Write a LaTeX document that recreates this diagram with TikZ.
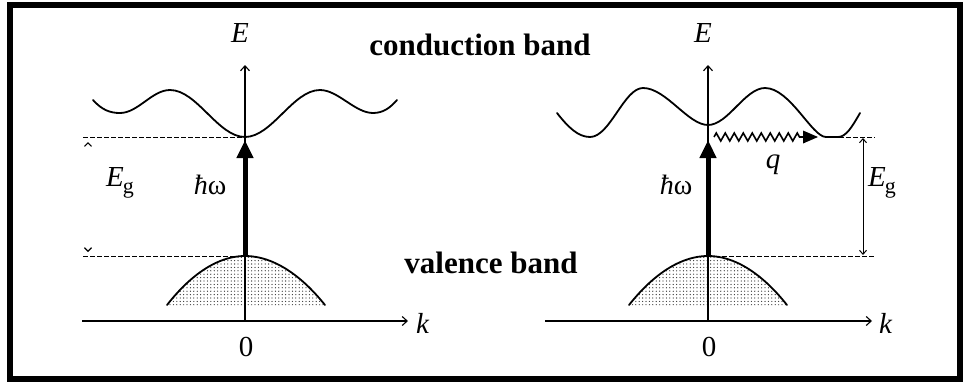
\documentclass[tikz,border=0pt]{standalone}
\usepackage{fontspec}
\setmainfont{Liberation Serif}
\usetikzlibrary{arrows.meta,patterns,decorations.pathmorphing}
\pgfdeclarepatternformonly{stipple}{\pgfqpoint{-1pt}{-1pt}}{\pgfqpoint{1pt}{1pt}}{\pgfqpoint{3.4pt}{3.4pt}}{%
  \pgfpathcircle{\pgfqpoint{0pt}{0pt}}{0.65pt}\pgfusepath{fill}}
\begin{document}
\begin{tikzpicture}[x=1pt,y=-1pt,
  axis/.style={line width=1.1pt,-{Straight Barb[length=5pt,width=9pt,line width=1.1pt]}},
  band/.style={line width=1.8pt,line cap=round},
  dline/.style={line width=0.9pt,dash pattern=on 5pt off 2pt},
  photon/.style={line width=5pt,-{Triangle[width=16pt,length=18pt]}},
  gaparrow/.style={line width=1pt,{Straight Barb[length=4pt,width=7pt]}-{Straight Barb[length=4pt,width=7pt]}},
  lbl/.style={font=\fontsize{29}{32}\selectfont\itshape,inner sep=0pt},
  blbl/.style={font=\fontsize{31}{34}\selectfont\bfseries,inner sep=0pt},
  hw/.style={font=\fontsize{28}{30}\selectfont,inner sep=0pt},
  vfill/.style={pattern=stipple,pattern color=black!80}]
\useasboundingbox (0,0) rectangle (963,383);
\draw[line width=6pt] (10,5) rectangle (960,379);

% ---------- left panel ----------
\coordinate (LO) at (245,321);
\coordinate (LEt) at (245,65);
\coordinate (LKs) at (82,321);
\coordinate (LKt) at (408,321);
\fill[vfill] (167,305) parabola bend (245,256) (325,305) -- cycle;
\draw[band] (167,305) parabola bend (245,256) (325,305);
\draw[axis] (LO) -- (LEt);
\draw[axis] (LKs) -- (LKt);
\draw[band] (93,100) .. controls (102,110) and (110,113) .. (120,113)
  .. controls (138,113) and (152,90) .. (170,90)
  .. controls (197,90) and (218,137) .. (245,137)
  .. controls (272,137) and (293,90) .. (320,90)
  .. controls (338,90) and (355,113) .. (373,113)
  .. controls (383,113) and (390,108) .. (397,100);
\coordinate (LCmin) at (245,137);
\coordinate (LVmax) at (245,256);
\draw[dline] (83,137) -- (LCmin);
\draw[dline] (83,256) -- (LVmax);
\draw[white,line width=0.6pt,{Straight Barb[length=3.5pt,width=7pt,color=black,line width=1.2pt]}-{Straight Barb[length=3.5pt,width=7pt,color=black,line width=1.2pt]}] (88,142) -- (88,252);
\draw[photon] (LVmax) -- (245,140);
\node[lbl] (LE) at (240,33) {E};
\node[lbl,anchor=west] (Lk) at (416,323) {k};
\node[lbl,font=\fontsize{29}{32}\selectfont] (L0) at (246,347) {0};
\node[lbl] (LEg) at (120,183) {E\kern-1pt\raisebox{-7pt}{\upshape\fontsize{22}{24}\selectfont g}};
\node[hw] (Lhw) at (210,185) {{\itshape ħ}ω};

% ---------- right panel ----------
\coordinate (RO) at (708,321);
\coordinate (REt) at (708,65);
\coordinate (RKs) at (545,321);
\coordinate (RKt) at (872,321);
\fill[vfill] (629,305) parabola bend (708,256) (787,305) -- cycle;
\draw[band] (629,305) parabola bend (708,256) (787,305);
\draw[axis] (RO) -- (REt);
\draw[axis] (RKs) -- (RKt);
\draw[band] (557,113) .. controls (568,127) and (578,137) .. (590,137)
  .. controls (610,137) and (624,88) .. (643,88)
  .. controls (666,88) and (688,125) .. (708,125)
  .. controls (728,125) and (745,88) .. (765,88)
  .. controls (790,88) and (812,137) .. (826,137)
  -- (838,137) .. controls (846,137) and (852,127) .. (860,113);
\coordinate (RCmin) at (832,137);
\coordinate (RVmax) at (708,256);
\coordinate (RCe) at (875,137);
\coordinate (RVe) at (875,256);
\draw[dline] (RCmin) -- (RCe);
\draw[dline] (RVmax) -- (RVe);
\draw[gaparrow] (863,138) -- (863,255);
\draw[photon] (RVmax) -- (708,140);
\coordinate (Zs) at (714,137);
\coordinate (Ze) at (803,137);
\draw[line width=1.6pt,decorate,decoration={zigzag,segment length=9pt,amplitude=4pt}] (Zs) -- (Ze);
\fill (803,130.5) -- (818,137) -- (803,143.5) -- cycle;
\node[lbl] (RE) at (703,33) {E};
\node[lbl,anchor=west] (Rk) at (879,323) {k};
\node[lbl,font=\fontsize{29}{32}\selectfont] (R0) at (709,347) {0};
\node[lbl] (REg) at (882,183) {E\kern-1pt\raisebox{-7pt}{\upshape\fontsize{22}{24}\selectfont g}};
\node[hw] (Rhw) at (676,185) {{\itshape ħ}ω};
\node[lbl] (Rq) at (773,165) {q};

% ---------- band labels ----------
\node[blbl] (cb) at (480,45) {conduction band};
\node[blbl] (vb) at (491,263) {valence band};
\end{tikzpicture}
\end{document}
